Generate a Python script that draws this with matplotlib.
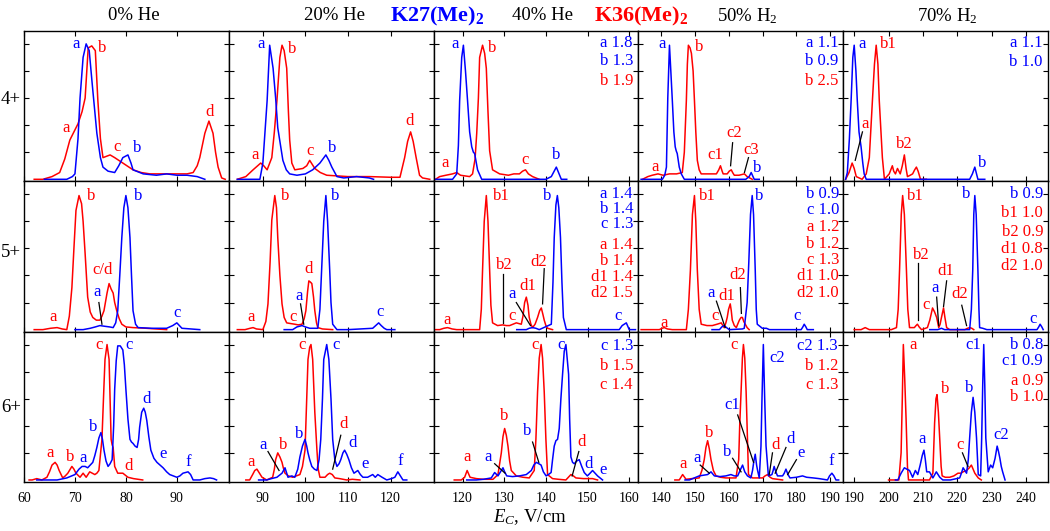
import matplotlib
matplotlib.use("Agg")
import matplotlib.pyplot as plt

plt.rcParams['font.family'] = 'Liberation Serif'
plt.rcParams['mathtext.fontset'] = 'custom'
plt.rcParams['mathtext.rm'] = 'Liberation Serif'
plt.rcParams['mathtext.it'] = 'Liberation Serif:italic'
plt.rcParams['mathtext.bf'] = 'Liberation Serif:bold'

BLUE = '#0000ff'
RED = '#ff0000'

# -------------------------------
# spectra: (E_C, normalised intensity)
# blue = K27(Me)2, red = K36(Me)2
# -------------------------------
# 4+
k27_4_he0 = [(64, 0), (68.4, 0.0), (69.5, 0.02), (70.0, 0.04), (70.6, 0.3), (71.0, 0.6), (71.6, 0.9), (72.2, 1.0),
             (72.8, 0.95), (73.4, 0.7), (74.3, 0.34), (75.0, 0.16), (75.5, 0.09), (76.5, 0.06), (77.8, 0.05),
             (78.6, 0.1), (79.4, 0.16), (80.4, 0.18), (81.0, 0.12), (81.4, 0.07), (83.4, 0.04), (86, 0.03),
             (88, 0.04), (90, 0.03), (92, 0.03), (94, 0.02), (95.5, 0.0)]
k36_4_he0 = [(62, 0), (63.7, 0.0), (65.5, 0.02), (67, 0.05), (68, 0.15), (69, 0.29), (70.6, 0.41), (71.4, 0.5),
             (72, 0.6), (72.6, 0.97), (73.3, 0.985), (74, 0.95), (74.5, 0.58), (75.0, 0.3), (75.5, 0.16),
             (76.2, 0.17), (76.9, 0.18), (77.8, 0.16), (79.4, 0.12), (81.4, 0.07), (83, 0.05), (84.7, 0.04),
             (87, 0.04), (90, 0.04), (92, 0.04), (93.2, 0.05), (94.0, 0.1), (94.5, 0.16), (95.5, 0.34),
             (96.3, 0.43), (97.1, 0.34), (97.6, 0.2), (98.1, 0.09), (98.8, 0.01), (99.5, 0.0)]
k27_4_he20 = [(84, 0), (89.3, 0.0), (90, 0.12), (90.5, 0.35), (91, 0.58), (91.6, 0.99), (92.4, 0.82), (93, 0.6),
              (93.5, 0.38), (94.7, 0.14), (95.5, 0.07), (96.3, 0.04), (98, 0.03), (100, 0.04), (101.7, 0.07),
              (103.4, 0.12), (104.8, 0.18), (105.5, 0.14), (106.2, 0.09), (107.4, 0.02), (109, 0.01),
              (112, 0.02), (115, 0.01), (116, 0.0)]
k36_4_he20 = [(84, 0), (86, 0.02), (87.7, 0.07), (89.5, 0.12), (90.2, 0.1), (91, 0.07), (92.1, 0.16),
              (92.7, 0.35), (93.3, 0.58), (94, 0.9), (94.5, 0.99), (95.0, 0.95), (95.6, 0.82), (96.0, 0.5),
              (96.3, 0.29), (96.8, 0.12), (97.5, 0.07), (99.4, 0.08), (100.3, 0.1), (101, 0.14), (101.6, 0.11),
              (102.2, 0.08), (103.5, 0.05), (105, 0.03), (110, 0.02), (115, 0.02), (120, 0.015), (122.2, 0.015),
              (123.3, 0.16), (124.0, 0.28), (124.7, 0.35), (125.3, 0.28), (126, 0.16), (126.8, 0.03),
              (127.5, 0.01), (129.2, 0.0)]
k27_4_he40 = [(113.5, 0.0), (117.6, 0.0), (118.6, 0.04), (119.0, 0.25), (119.3, 0.58), (119.8, 0.9), (120.2, 0.99),
              (120.7, 0.8), (121.2, 0.58), (121.7, 0.35), (122.2, 0.24), (122.6, 0.2), (122.9, 0.19),
              (123.6, 0.07), (124.6, 0.0), (130, 0.0), (136, 0.0), (140, 0.0), (141.3, 0.02), (142.5, 0.09),
              (143.7, 0.0), (145, 0.0)]
k36_4_he40 = [(113.5, 0.0), (114.5, 0.02), (116, 0.03), (117.6, 0.04), (118.6, 0.05), (119.5, 0.03), (121.7, 0.02),
              (122.4, 0.04), (123.0, 0.15), (123.4, 0.34), (123.8, 0.6), (124.1, 0.9), (124.8, 0.99),
              (125.3, 0.93), (125.7, 0.82), (126.1, 0.5), (126.5, 0.21), (127.2, 0.07), (128.9, 0.04),
              (131, 0.03), (132.3, 0.04), (133.65, 0.04), (134.4, 0.06), (135.1, 0.07), (135.8, 0.04),
              (136.8, 0.02), (138.4, 0.0)]
k27_4_h50 = [(134, 0), (140.3, 0.0), (141.0, 0.03), (141.5, 0.09), (141.9, 0.6), (142.4, 0.99), (142.8, 0.8),
             (143.25, 0.58), (143.7, 0.35), (144.1, 0.24), (144.4, 0.21), (144.7, 0.19), (145.3, 0.09),
             (145.9, 0.04), (146.8, 0.0), (155, 0.0), (161.6, 0.0), (165, 0.0), (166.0, 0.02), (166.6, 0.05),
             (167.5, 0.0), (169, 0.0)]
k36_4_h50 = [(134.4, 0.0), (136, 0.02), (137.3, 0.03), (139, 0.04), (140.5, 0.03), (142.4, 0.04), (144.5, 0.04),
             (146.2, 0.05), (146.8, 0.2), (147.4, 0.58), (147.7, 0.85), (148.0, 0.99), (148.5, 0.97),
             (148.9, 0.93), (149.4, 0.8), (149.8, 0.58), (150.2, 0.35), (150.65, 0.14), (151.2, 0.07),
             (151.8, 0.04), (154, 0.04), (156.3, 0.04), (157.0, 0.07), (157.5, 0.1), (158.0, 0.06),
             (158.3, 0.04), (159.5, 0.04), (160.1, 0.06), (160.7, 0.07), (161.1, 0.05), (161.6, 0.03),
             (163, 0.03), (164.6, 0.04), (165.4, 0.02), (166.9, 0.0)]
k27_4_h70 = [(187.5, 0.0), (188.0, 0.05), (188.6, 0.3), (189.1, 0.58), (189.6, 0.9), (190.0, 0.99), (190.5, 0.8),
             (190.9, 0.58), (191.4, 0.35), (192.0, 0.24), (192.5, 0.12), (192.9, 0.04), (193.5, 0.0),
             (200, 0.0), (210, 0.0), (223.6, 0.0), (224.4, 0.04), (225.1, 0.09), (225.6, 0.04), (226.0, 0.0),
             (228, 0.0)]
k36_4_h70 = [(187.5, 0.0), (188.5, 0.05), (189.4, 0.12), (190.0, 0.08), (190.6, 0.02), (192.3, 0.0), (193.5, 0.04),
             (194.4, 0.16), (195.3, 0.58), (195.9, 0.85), (196.4, 0.99), (196.9, 0.85), (197.3, 0.58),
             (198.2, 0.16), (198.8, 0.0), (199.5, 0.02), (200.2, 0.04), (201.1, 0.1), (201.5, 0.06),
             (202.0, 0.04), (202.6, 0.08), (203.0, 0.06), (203.4, 0.04), (204.0, 0.1), (204.6, 0.18),
             (205.1, 0.08), (205.5, 0.02), (206.3, 0.03), (207.0, 0.04), (207.6, 0.07), (208.1, 0.09),
             (208.6, 0.06), (209.3, 0.0), (211, 0.0)]

# 5+
k27_5_he0 = [(70, 0), (71.6, 0.0), (73, 0.01), (74.0, 0.02), (74.9, 0.03), (75.8, 0.025), (76.8, 0.02),
             (77.5, 0.015), (78.0, 0.05), (78.4, 0.14), (78.8, 0.4), (79.2, 0.68), (79.6, 0.9), (80.0, 0.99),
             (80.4, 0.9), (80.8, 0.68), (81.1, 0.4), (81.4, 0.14), (81.9, 0.04), (82.4, 0.015), (85, 0.01),
             (88, 0.01), (89.2, 0.03), (90, 0.05), (90.5, 0.03), (91, 0.01), (94.5, 0.0)]
k36_5_he0 = [(62, 0), (63.7, 0.0), (65.2, 0.01), (66.5, 0.015), (67.5, 0.005), (68.4, 0.0), (68.9, 0.1),
             (69.4, 0.31), (69.8, 0.6), (70.2, 0.88), (70.8, 0.99), (71.3, 0.93), (71.6, 0.8), (72, 0.56),
             (72.5, 0.24), (73.0, 0.13), (73.5, 0.09), (74.2, 0.07), (74.9, 0.07), (75.3, 0.1), (75.7, 0.14),
             (76.3, 0.27), (76.7, 0.34), (77.1, 0.3), (77.5, 0.27), (77.8, 0.2), (78.2, 0.14), (78.7, 0.08),
             (79.2, 0.04), (80, 0.02), (81.4, 0.015), (84, 0.01), (88, 0.0)]
k27_5_he20 = [(95, 0), (97, 0.0), (98, 0.02), (99.2, 0.03), (100.0, 0.02), (101, 0.01), (102.9, 0.01),
              (103.4, 0.15), (103.8, 0.44), (104.3, 0.8), (104.8, 0.99), (105.2, 0.8), (105.7, 0.44),
              (106.0, 0.2), (106.4, 0.04), (107.4, 0.0), (110, 0.0), (115.8, 0.01), (116.5, 0.03),
              (117.2, 0.05), (117.8, 0.03), (118.5, 0.01), (119.1, 0.0), (121, 0.0)]
k36_5_he20 = [(84, 0), (85.8, 0.0), (87.0, 0.01), (87.7, 0.015), (88.5, 0.005), (90, 0.0), (90.7, 0.06),
              (91.2, 0.19), (91.7, 0.5), (92.1, 0.81), (92.8, 0.99), (93.2, 0.9), (93.5, 0.68), (94.0, 0.4),
              (94.5, 0.19), (95.0, 0.09), (95.6, 0.05), (96.5, 0.045), (97.5, 0.04), (98.3, 0.035),
              (99.2, 0.04), (99.7, 0.08), (100.1, 0.14), (100.5, 0.28), (100.8, 0.36), (101.2, 0.35),
              (101.5, 0.34), (101.9, 0.24), (102.2, 0.14), (102.6, 0.05), (102.9, 0.015), (104, 0.005),
              (106.4, 0.0)]
k27_5_he40 = [(133, 0), (135.3, 0.0), (136.0, 0.01), (136.8, 0.015), (137.6, 0.01), (138.4, 0.0), (141.3, 0.04),
              (141.7, 0.35), (142.0, 0.68), (142.4, 0.92), (142.75, 0.99), (143.1, 0.9), (143.5, 0.68),
              (143.85, 0.35), (144.2, 0.09), (144.9, 0.0), (150, 0.0), (157.6, 0.0), (158.3, 0.03),
              (159.3, 0.05), (160.0, 0.0), (161.5, 0.0)]
k36_5_he40 = [(113.5, 0), (114.5, 0.0), (115.5, 0.01), (116.4, 0.015), (117.5, 0.005), (118.6, 0.0), (124.1, 0.0),
              (124.5, 0.15), (124.8, 0.44), (125.2, 0.8), (125.7, 0.99), (126.1, 0.8), (126.5, 0.44),
              (126.8, 0.18), (127.2, 0.05), (128.4, 0.03), (129.6, 0.035), (130.5, 0.03), (131.3, 0.03),
              (132.1, 0.04), (132.9, 0.05), (133.5, 0.045), (134.1, 0.04), (134.5, 0.1), (134.9, 0.2),
              (135.3, 0.24), (135.7, 0.18), (136.0, 0.09), (136.4, 0.04), (136.8, 0.015), (137.4, 0.04),
              (138.0, 0.09), (138.5, 0.14), (138.9, 0.16), (139.3, 0.11), (139.6, 0.07), (140.0, 0.03),
              (140.4, 0.01), (141.6, 0.0)]
k27_5_h50 = [(155, 0), (157.2, 0.0), (157.9, 0.02), (158.6, 0.03), (159.3, 0.015), (160.1, 0.0), (164.0, 0.005),
             (164.55, 0.01), (165.4, 0.2), (165.9, 0.5), (166.4, 0.85), (166.9, 0.99), (167.3, 0.85),
             (167.8, 0.44), (168.1, 0.15), (168.4, 0.04), (169.9, 0.01), (171.1, 0.01), (172.0, 0.0),
             (181.4, 0.0), (181.9, 0.02), (182.3, 0.04), (182.8, 0.02), (183.2, 0.0), (185, 0.0)]
k36_5_h50 = [(134, 0), (139.4, 0.0), (140.2, 0.01), (140.9, 0.015), (141.8, 0.005), (143.25, 0.0), (147.4, 0.0),
             (148.0, 0.15), (148.6, 0.44), (149.2, 0.85), (149.8, 0.99), (150.2, 0.8), (150.65, 0.44),
             (151.2, 0.15), (151.8, 0.04), (153.5, 0.03), (155.1, 0.03), (156.5, 0.04), (157.75, 0.05),
             (158.2, 0.03), (158.6, 0.015), (159.1, 0.05), (159.5, 0.09), (159.9, 0.15), (160.4, 0.19),
             (160.7, 0.14), (161.0, 0.07), (161.6, 0.03), (162.2, 0.015), (162.6, 0.04), (163.1, 0.07),
             (163.6, 0.09), (164.0, 0.09), (164.4, 0.06), (164.85, 0.04), (165.4, 0.015), (166.0, 0.0)]
k27_5_h70 = [(212, 0), (214.3, 0.0), (215.4, 0.01), (216.3, 0.0), (223.6, 0.0), (224.1, 0.15), (224.5, 0.44),
             (224.8, 0.85), (225.1, 0.99), (225.5, 0.85), (226.0, 0.44), (226.3, 0.15), (226.5, 0.015),
             (227.4, 0.01), (228.6, 0.0), (243.2, 0.0), (243.7, 0.02), (244.1, 0.04), (244.6, 0.02), (245.0, 0.0)]
k36_5_h70 = [(190, 0), (192.0, 0.0), (193.2, 0.015), (194.4, 0.0), (200.8, 0.0), (202.3, 0.015), (202.8, 0.15),
             (203.2, 0.44), (203.7, 0.85), (204.1, 0.99), (204.6, 0.85), (205.2, 0.44), (205.6, 0.15),
             (206.1, 0.015), (207.5, 0.015), (208.0, 0.03), (208.4, 0.04), (208.9, 0.02), (209.6, 0.0),
             (211.3, 0.015), (212.0, 0.07), (212.8, 0.16), (213.4, 0.13), (214.0, 0.09), (214.6, 0.015),
             (215.0, 0.04), (215.4, 0.09), (216.0, 0.16), (216.4, 0.09), (216.9, 0.015), (217.8, 0.0),
             (222.2, 0.0), (223.0, 0.01), (223.6, 0.015), (224.2, 0.01), (224.8, 0.0)]

# 6+
k27_6_he0 = [(62.5, 0.0), (66.5, 0.0), (68.4, 0.015), (70.0, 0.04), (70.8, 0.08), (71.4, 0.1), (72.0, 0.1),
             (72.5, 0.09), (73.0, 0.11), (73.5, 0.13), (73.9, 0.18), (74.3, 0.24), (74.7, 0.31), (75.1, 0.35),
             (75.4, 0.3), (75.7, 0.22), (76.1, 0.14), (76.5, 0.1), (76.9, 0.12), (77.3, 0.15), (77.6, 0.4),
             (77.8, 0.67), (78.1, 0.88), (78.4, 0.99), (78.9, 0.99), (79.4, 0.96), (79.7, 0.85), (80.0, 0.67),
             (80.4, 0.45), (80.8, 0.3), (81.1, 0.28), (81.4, 0.27), (81.8, 0.25), (82.2, 0.24), (82.5, 0.3),
             (82.7, 0.39), (83.1, 0.5), (83.5, 0.53), (83.8, 0.5), (84.1, 0.44), (84.5, 0.32), (84.9, 0.22),
             (85.5, 0.16), (86.1, 0.13), (86.7, 0.11), (87.3, 0.09), (88.0, 0.06), (88.6, 0.04), (89.3, 0.03),
             (90, 0.02), (90.6, 0.03), (91.2, 0.05), (92.2, 0.06), (92.7, 0.04), (93.2, 0.0), (94.5, 0.0),
             (95.5, 0.01), (96.5, 0.015), (97.2, 0.01), (97.8, 0.0)]
k36_6_he0 = [(61, 0), (61.6, 0.0), (62.5, 0.01), (63.5, 0.0), (64.5, 0.02), (65.0, 0.06), (65.5, 0.11),
             (66.1, 0.13), (66.5, 0.11), (66.9, 0.07), (67.6, 0.015), (68.1, 0.03), (68.6, 0.05), (69.4, 0.1),
             (69.8, 0.08), (70.2, 0.05), (71, 0.02), (71.6, 0.05), (72.2, 0.02), (72.9, 0.06), (73.4, 0.05),
             (73.9, 0.04), (74.3, 0.05), (74.7, 0.07), (75.3, 0.3), (75.7, 0.7), (75.9, 0.89), (76.3, 1.0),
             (76.7, 0.89), (77.1, 0.3), (77.3, 0.26), (77.5, 0.24), (77.8, 0.1), (78.4, 0.05), (79.0, 0.05),
             (79.4, 0.05), (80.4, 0.02), (81.5, 0.01), (83.3, 0.0)]
k27_6_he20 = [(89, 0), (90.9, 0.0), (92, 0.01), (93.3, 0.02), (94.5, 0.05), (95.2, 0.09), (95.6, 0.05),
              (95.9, 0.02), (96.8, 0.03), (97.5, 0.02), (98.2, 0.08), (98.7, 0.17), (99.3, 0.25), (99.9, 0.3),
              (100.3, 0.25), (100.6, 0.2), (101.0, 0.15), (101.5, 0.1), (102.1, 0.08), (102.7, 0.07),
              (103.2, 0.15), (103.6, 0.3), (104.0, 0.6), (104.3, 0.89), (105.0, 1.0), (105.5, 0.89),
              (106.0, 0.6), (106.4, 0.3), (106.9, 0.15), (107.4, 0.1), (107.9, 0.12), (108.3, 0.15),
              (108.8, 0.2), (109.2, 0.22), (109.7, 0.19), (110.2, 0.15), (110.8, 0.09), (111.4, 0.05),
              (112.3, 0.07), (112.9, 0.04), (113.5, 0.02), (114.6, 0.02), (115.8, 0.04), (116.4, 0.02),
              (117.0, 0.04), (118, 0.02), (119.1, 0.0), (120.2, 0.01), (121.0, 0.02), (121.7, 0.06),
              (122.3, 0.03), (122.9, 0.0), (123.8, 0.0)]
k36_6_he20 = [(86, 0), (86.9, 0.0), (87.6, 0.04), (88.1, 0.07), (88.6, 0.08), (89.2, 0.05), (89.8, 0.02),
              (90.9, 0.0), (92.3, 0.02), (92.7, 0.08), (93.0, 0.15), (93.5, 0.2), (94.0, 0.17), (94.5, 0.13),
              (94.8, 0.09), (95.2, 0.05), (96, 0.03), (97, 0.02), (98.7, 0.04), (99.3, 0.1), (99.9, 0.22),
              (100.3, 0.6), (100.6, 0.89), (101.0, 0.98), (101.3, 1.0), (101.7, 0.89), (102.2, 0.5),
              (102.7, 0.22), (103.0, 0.08), (103.4, 0.02), (104.6, 0.02), (105.2, 0.04), (105.7, 0.05),
              (106.3, 0.04), (106.9, 0.015), (108, 0.01), (109.7, 0.0), (111, 0.005), (112.8, 0.0)]
k27_6_he40 = [(121, 0), (123.3, 0.0), (125, 0.005), (126.9, 0.015), (127.7, 0.055), (128.5, 0.03), (129.1, 0.06),
              (129.7, 0.09), (130.1, 0.06), (130.6, 0.03), (132, 0.025), (133.65, 0.03), (135.3, 0.04),
              (136.5, 0.07), (137.1, 0.11), (137.7, 0.13), (138.3, 0.12), (138.85, 0.11), (139.4, 0.06),
              (140.05, 0.03), (140.6, 0.04), (141.25, 0.055), (141.6, 0.15), (142.0, 0.25), (142.4, 0.29),
              (142.8, 0.3), (143.2, 0.38), (143.6, 0.6), (144.0, 0.78), (144.4, 0.95), (144.8, 1.0),
              (145.1, 0.9), (145.45, 0.78), (145.7, 0.45), (146.0, 0.17), (146.4, 0.13), (146.8, 0.12),
              (147.4, 0.14), (148.0, 0.15), (148.6, 0.1), (149.2, 0.055), (149.95, 0.03), (150.6, 0.05),
              (151.2, 0.07), (151.8, 0.05), (152.4, 0.03), (153.6, 0.0)]
k36_6_he40 = [(118, 0), (119.7, 0.0), (120.5, 0.02), (121.1, 0.07), (121.8, 0.02), (123.3, 0.01), (125, 0.005),
              (127.3, 0.005), (128.5, 0.04), (129.3, 0.2), (129.7, 0.32), (130.1, 0.38), (130.5, 0.33),
              (130.9, 0.25), (131.3, 0.14), (131.7, 0.07), (132.9, 0.03), (134.5, 0.02), (136.0, 0.015),
              (137.2, 0.07), (137.6, 0.3), (138.0, 0.65), (138.4, 0.9), (138.85, 1.0), (139.2, 0.9),
              (139.6, 0.65), (140.0, 0.3), (140.4, 0.04), (141.6, 0.01), (143, 0.005), (144.8, 0.0),
              (145.4, 0.02), (146.0, 0.04), (146.6, 0.03), (147.2, 0.015), (149, 0.01), (151.2, 0.01),
              (152.4, 0.0)]
k27_6_h50 = [(147, 0), (148.3, 0.0), (151.2, 0.03), (153.7, 0.04), (154.2, 0.05), (154.7, 0.06), (155.2, 0.045),
             (155.7, 0.03), (157.4, 0.025), (159.1, 0.03), (160.6, 0.04), (161.6, 0.03), (162.6, 0.03),
             (163.3, 0.07), (164.05, 0.11), (164.7, 0.06), (165.5, 0.03), (166.5, 0.015), (167.0, 0.07),
             (167.4, 0.14), (167.8, 0.19), (168.2, 0.11), (168.5, 0.07), (169.0, 0.015), (169.5, 0.25),
             (169.8, 0.6), (170.2, 1.0), (170.6, 0.6), (171.0, 0.25), (171.7, 0.03), (172.25, 0.035),
             (172.75, 0.04), (173.1, 0.07), (173.4, 0.1), (173.9, 0.06), (174.4, 0.03), (175.9, 0.03),
             (176.4, 0.05), (176.9, 0.08), (177.5, 0.04), (178.1, 0.015), (180, 0.02), (181.8, 0.03),
             (183, 0.02), (185, 0.015), (186.7, 0.01), (189.2, 0.0), (189.8, 0.03), (190.5, 0.05),
             (191.1, 0.03), (191.7, 0.0), (192.5, 0.0)]
k36_6_h50 = [(144, 0), (145.3, 0.0), (146.3, 0.04), (147.3, 0.005), (149, 0.01), (151.2, 0.015), (152.0, 0.07),
             (152.7, 0.15), (153.2, 0.24), (153.7, 0.29), (154.2, 0.23), (154.7, 0.15), (155.4, 0.07),
             (156.2, 0.03), (157.5, 0.02), (159.1, 0.015), (162.1, 0.015), (162.9, 0.15), (163.2, 0.4),
             (163.6, 0.65), (164.0, 0.9), (164.3, 1.0), (164.7, 0.9), (165.1, 0.65), (165.5, 0.3),
             (165.8, 0.04), (167.0, 0.015), (170.0, 0.015), (170.7, 0.03), (171.45, 0.04), (172.2, 0.02),
             (172.9, 0.01), (175.9, 0.0)]
k27_6_h70 = [(202, 0), (202.7, 0.0), (203.65, 0.05), (204.6, 0.09), (205.3, 0.08), (206.1, 0.07), (207.0, 0.02),
             (207.8, 0.07), (208.5, 0.04), (209.2, 0.11), (209.8, 0.18), (210.3, 0.22), (210.7, 0.15),
             (211.1, 0.06), (211.9, 0.06), (212.9, 0.015), (213.9, 0.06), (214.9, 0.02), (215.8, 0.0),
             (218, 0.0), (220.7, 0.015), (221.2, 0.05), (221.7, 0.09), (222.2, 0.07), (222.7, 0.05),
             (223.2, 0.15), (223.6, 0.31), (224.1, 0.5), (224.6, 0.61), (225.1, 0.5), (225.6, 0.31),
             (226.1, 0.04), (226.8, 0.03), (227.1, 0.31), (227.4, 0.7), (227.7, 1.0), (228.0, 0.7),
             (228.3, 0.31), (229.0, 0.06), (229.7, 0.11), (230.3, 0.09), (231.0, 0.16), (231.6, 0.25),
             (232.0, 0.21), (232.4, 0.16), (232.8, 0.1), (233.2, 0.06), (233.9, 0.0)]
k36_6_h70 = [(200, 0), (203.0, 0.0), (203.65, 0.2), (204.0, 0.6), (204.3, 1.0), (204.7, 0.75), (205.1, 0.45),
             (205.5, 0.1), (205.8, 0.0), (208, 0.0), (211.9, 0.0), (212.9, 0.05), (213.4, 0.42), (213.8, 0.6),
             (214.1, 0.63), (214.5, 0.5), (214.9, 0.3), (215.3, 0.1), (215.6, 0.03), (216.5, 0.02),
             (217.8, 0.02), (219, 0.03), (220.2, 0.05), (221.0, 0.05), (221.7, 0.06), (222.7, 0.07),
             (223.5, 0.09), (224.1, 0.11), (224.6, 0.08), (225.1, 0.05), (226.1, 0.015), (227.0, 0.0)]

gases = ["0% He", "20% He", "40% He", "50% H$_2$", "70% H$_2$"]
charges = ["4+", "5+", "6+"]
x_limits = [(60, 100.2), (82.0, 130.1), (113.05, 162.2), (133.2, 193.85), (186.8, 246.4)]
x_ticks = [[60, 70, 80, 90], [90, 100, 110, 120], [120, 130, 140, 150, 160],
           [140, 150, 160, 170, 180, 190], [190, 200, 210, 220, 230, 240]]

k27 = [[k27_4_he0, k27_4_he20, k27_4_he40, k27_4_h50, k27_4_h70],
       [k27_5_he0, k27_5_he20, k27_5_he40, k27_5_h50, k27_5_h70],
       [k27_6_he0, k27_6_he20, k27_6_he40, k27_6_h50, k27_6_h70]]
k36 = [[k36_4_he0, k36_4_he20, k36_4_he40, k36_4_h50, k36_4_h70],
       [k36_5_he0, k36_5_he20, k36_5_he40, k36_5_h50, k36_5_h70],
       [k36_6_he0, k36_6_he20, k36_6_he40, k36_6_h50, k36_6_h70]]

# peak labels: (text, x, y, colour)
B, R = BLUE, RED
peak_labels = {
    (0, 0): [("a", 70.2, 1.0, B), ("b", 75.3, 0.97, R), ("a", 68.2, 0.38, R), ("c", 78.2, 0.24, R),
             ("b", 82.2, 0.23, B), ("d", 96.5, 0.5, R)],
    (0, 1): [("a", 88.1, 0.18, R), ("a", 89.5, 1.0, B), ("b", 97, 0.96, R), ("c", 101, 0.21, R),
             ("b", 106.2, 0.23, B), ("d", 124.5, 0.43, R)],
    (0, 2): [("a", 118.3, 1.0, B), ("b", 127.2, 0.97, R), ("a", 115.9, 0.12, R), ("c", 135.1, 0.14, R),
             ("b", 142.5, 0.18, B)],
    (0, 3): [("a", 140.3, 1.0, B), ("b", 151.2, 0.98, R), ("a", 138.2, 0.09, R), ("c1", 156.0, 0.18, R),
             ("c2", 161.6, 0.34, R), ("c3", 166.5, 0.22, R), ("b", 168.5, 0.08, B)],
    (0, 4): [("a", 192.3, 1.0, B), ("b1", 199.9, 1.0, R), ("a", 193.2, 0.41, R), ("b2", 204.6, 0.26, R),
             ("b", 227.1, 0.12, B)],
    (1, 0): [("a", 65.7, 0.09, R), ("b", 73.1, 0.99, R), ("c/d", 75.4, 0.44, R), ("a", 74.3, 0.28, B),
             ("b", 82.4, 0.99, B), ("c", 90, 0.12, B)],
    (1, 1): [("a", 87.2, 0.09, R), ("b", 95.2, 0.99, R), ("c", 97, 0.09, R), ("d", 100.8, 0.45, R),
             ("a", 98.5, 0.25, B), ("b", 107.1, 0.99, B), ("c", 117.5, 0.13, B)],
    (1, 2): [("a", 116.4, 0.07, R), ("b1", 129.3, 0.99, R), ("b2", 130.1, 0.48, R), ("c", 132.0, 0.1, R),
             ("a", 132.0, 0.26, B), ("d1", 135.6, 0.32, R), ("d2", 138.2, 0.5, R), ("b", 140.4, 0.99, B),
             ("c", 157.4, 0.1, B)],
    (1, 3): [("a", 140.9, 0.05, R), ("b1", 153.6, 0.99, R), ("c", 156.0, 0.1, R), ("a", 154.8, 0.27, B),
             ("d1", 159.5, 0.25, R), ("d2", 162.5, 0.4, R), ("b", 169.0, 0.99, B), ("c", 180.2, 0.1, B)],
    (1, 4): [("b1", 207.8, 0.99, R), ("b2", 209.6, 0.55, R), ("c", 211.0, 0.18, R), ("a", 213.4, 0.31, B),
             ("d1", 216.6, 0.43, R), ("d2", 220.7, 0.26, R), ("b", 222.7, 1.0, B), ("c", 242.0, 0.08, B)],
    (2, 0): [("a", 65.1, 0.2, R), ("b", 69, 0.17, R), ("a", 71.6, 0.16, B), ("b", 73.5, 0.39, B),
             ("c", 74.7, 1.0, R), ("c", 80.6, 1.0, B), ("d", 84.1, 0.6, B), ("d", 80.6, 0.1, R),
             ("e", 87.3, 0.19, B), ("f", 92.2, 0.13, B)],
    (2, 1): [("a", 87.2, 0.13, R), ("a", 90, 0.26, B), ("b", 94.7, 0.26, R), ("b", 98.5, 0.34, B),
             ("c", 99.2, 1.0, R), ("c", 107.1, 1.0, B), ("d", 109, 0.41, R), ("d", 111.1, 0.27, B),
             ("e", 114, 0.12, B), ("f", 122.2, 0.14, B)],
    (2, 2): [("a", 121.1, 0.17, R), ("a", 126.1, 0.17, B), ("b", 129.9, 0.47, R), ("b", 135.6, 0.36, B),
             ("c", 137.4, 1.0, R), ("c", 143.6, 1.0, B), ("d", 148.6, 0.28, R), ("d", 150.25, 0.12, B),
             ("e", 153.8, 0.07, B)],
    (2, 3): [("a", 146.3, 0.12, R), ("a", 150.7, 0.16, B), ("b", 154.2, 0.35, R), ("b", 159.6, 0.21, B),
             ("c", 161.6, 1.0, R), ("c1", 161.1, 0.55, B), ("c2", 174.4, 0.9, B), ("d", 173.7, 0.26, R),
             ("d", 178.2, 0.3, B), ("e", 181.3, 0.2, B), ("f", 190.2, 0.14, B)],
    (2, 4): [("a", 207.1, 1.0, R), ("b", 216.6, 0.67, R), ("a", 209.7, 0.3, B), ("c", 220.7, 0.26, R),
             ("b", 223.6, 0.68, B), ("c1", 224.6, 1.0, B), ("c2", 232.9, 0.33, B)],
}

# black leader lines: (x0, y0, x1, y1)
leader_lines = {
    (0, 3): [(161.1, 0.27, 160.5, 0.1), (165.8, 0.16, 164.6, 0.05)],
    (0, 4): [(192.4, 0.35, 190.3, 0.14)],
    (1, 0): [(74.7, 0.2, 75.3, 0.04)],
    (1, 1): [(98.85, 0.19, 99.6, 0.04)],
    (1, 2): [(129.6, 0.41, 129.6, 0.05), (132.9, 0.2, 136.3, 0.03), (139.6, 0.45, 139.2, 0.19)],
    (1, 3): [(156.3, 0.21, 158.9, 0.015), (163.4, 0.31, 163.7, 0.12)],
    (1, 4): [(208.7, 0.49, 208.7, 0.07), (214.0, 0.24, 214.6, 0.03), (216.9, 0.36, 216.0, 0.17),
             (221.3, 0.18, 222.7, 0.03)],
    (2, 1): [(91.2, 0.21, 93.8, 0.07), (108.3, 0.33, 106.4, 0.08)],
    (2, 2): [(127.7, 0.12, 130.2, 0.05), (136.8, 0.28, 138.3, 0.13), (147.9, 0.21, 146.3, 0.03)],
    (2, 3): [(151.5, 0.11, 154.2, 0.05), (161.1, 0.16, 163.6, 0.06), (162.6, 0.48, 167.3, 0.13),
             (172.9, 0.2, 171.95, 0.04), (176.9, 0.24, 173.7, 0.05), (180.0, 0.15, 177.4, 0.04)],
    (2, 4): [(221.5, 0.2, 223.1, 0.1)],
}

# ratios listed in the corner: (text, pixel row, colour), right edge pixel
corner_text = {
    (0, 2): (633, [("a 1.8", 43, B), ("b 1.3", 61, B), ("b 1.9", 81, R)]),
    (0, 3): (838, [("a 1.1", 43, B), ("b 0.9", 61, B), ("b 2.5", 81, R)]),
    (0, 4): (1042, [("a 1.1", 43, B), ("b 1.0", 62, B)]),
    (1, 2): (633, [("a 1.4", 194, B), ("b 1.4", 209, B), ("c 1.3", 224, B), ("a 1.4", 245, R),
                   ("b 1.4", 261, R), ("d1 1.4", 277, R), ("d2 1.5", 293, R)]),
    (1, 3): (839, [("b 0.9", 194, B), ("c 1.0", 210.5, B), ("a 1.2", 227, R), ("b 1.2", 243.5, R),
                   ("c 1.3", 260, R), ("d1 1.0", 276.5, R), ("d2 1.0", 293, R)]),
    (1, 4): (1043, [("b 0.9", 194, B), ("b1 1.0", 213, R), ("b2 0.9", 232, R), ("d1 0.8", 249, R),
                    ("d2 1.0", 266, R)]),
    (2, 2): (633, [("c 1.3", 346, B), ("b 1.5", 366, R), ("c 1.4", 385, R)]),
    (2, 3): (838, [("c2 1.3", 346, B), ("b 1.2", 366, R), ("c 1.3", 385, R)]),
    (2, 4): (1043, [("b 0.8", 345, B), ("c1 0.9", 361, B), ("a 0.9", 381, R), ("b 1.0", 397, R)]),
}

W, H = 1050, 531
left_px, right_px, top_px, bottom_px = 24, 1048, 31, 482
col_w = (right_px - left_px) / 5
row_h = (bottom_px - top_px) / 3

fig, axes = plt.subplots(3, 5, figsize=(W / 100, H / 100), dpi=100)
plt.subplots_adjust(left=left_px / W, right=right_px / W, top=1 - top_px / H,
                    bottom=1 - bottom_px / H, wspace=0, hspace=0)

for r in range(3):
    for c in range(5):
        ax = axes[r, c]
        bx = [p[0] for p in k27[r][c]]
        by = [p[1] for p in k27[r][c]]
        rx = [p[0] for p in k36[r][c]]
        ry = [p[1] for p in k36[r][c]]
        ax.plot(rx, ry, color=RED, lw=1.1)
        ax.plot(bx, by, color=BLUE, lw=1.1)
        ax.set_xlim(*x_limits[c])
        ax.set_ylim(-0.015, 1.095)
        ax.set_xticks(x_ticks[c])
        ax.set_yticks([0.2, 0.4, 0.6, 0.8, 1.0])
        ax.tick_params(direction='in', top=True, right=True, length=3.5, width=0.8,
                       labelleft=False, labelbottom=(r == 2), labelsize=10, pad=7)
        for s in ax.spines.values():
            s.set_linewidth(1.0)

        for txt, x, y, col in peak_labels.get((r, c), []):
            ax.text(x, y, txt, color=col, fontsize=12, ha='center', va='center')
        for x0, y0, x1, y1 in leader_lines.get((r, c), []):
            ax.plot([x0, x1], [y0, y1], color='black', lw=0.9)
        if (r, c) in corner_text:
            rx_px, rows = corner_text[(r, c)]
            for txt, py, col in rows:
                fx = (rx_px - (left_px + c * col_w)) / col_w
                fy = 1 - (py - (top_px + r * row_h)) / row_h
                ax.text(fx, fy, txt, color=col, fontsize=12, ha='right', va='center',
                        transform=ax.transAxes)

# column headings
title_x = [134, 335, 542, 747, 947]
for name, px in zip(gases, title_x):
    fig.text(px / W, 1 - 16 / H, name, ha='center', va='center', fontsize=13.5)
fig.text(437 / W, 1 - 16 / H, r"K27(Me)$_\mathbf{2}$", color=BLUE, fontweight='bold',
         ha='center', va='center', fontsize=16)
fig.text(641 / W, 1 - 16 / H, r"K36(Me)$_\mathbf{2}$", color=RED, fontweight='bold',
         ha='center', va='center', fontsize=16)

# charge states
for name, py in zip(charges, [100, 252, 408]):
    fig.text(11 / W, 1 - py / H, name, ha='center', va='center', fontsize=13.5)

fig.text(530 / W, 1 - 517 / H, r"$E_C$, V/cm", ha='center', va='center', fontsize=13.5)

plt.savefig("out.png", dpi=100)
